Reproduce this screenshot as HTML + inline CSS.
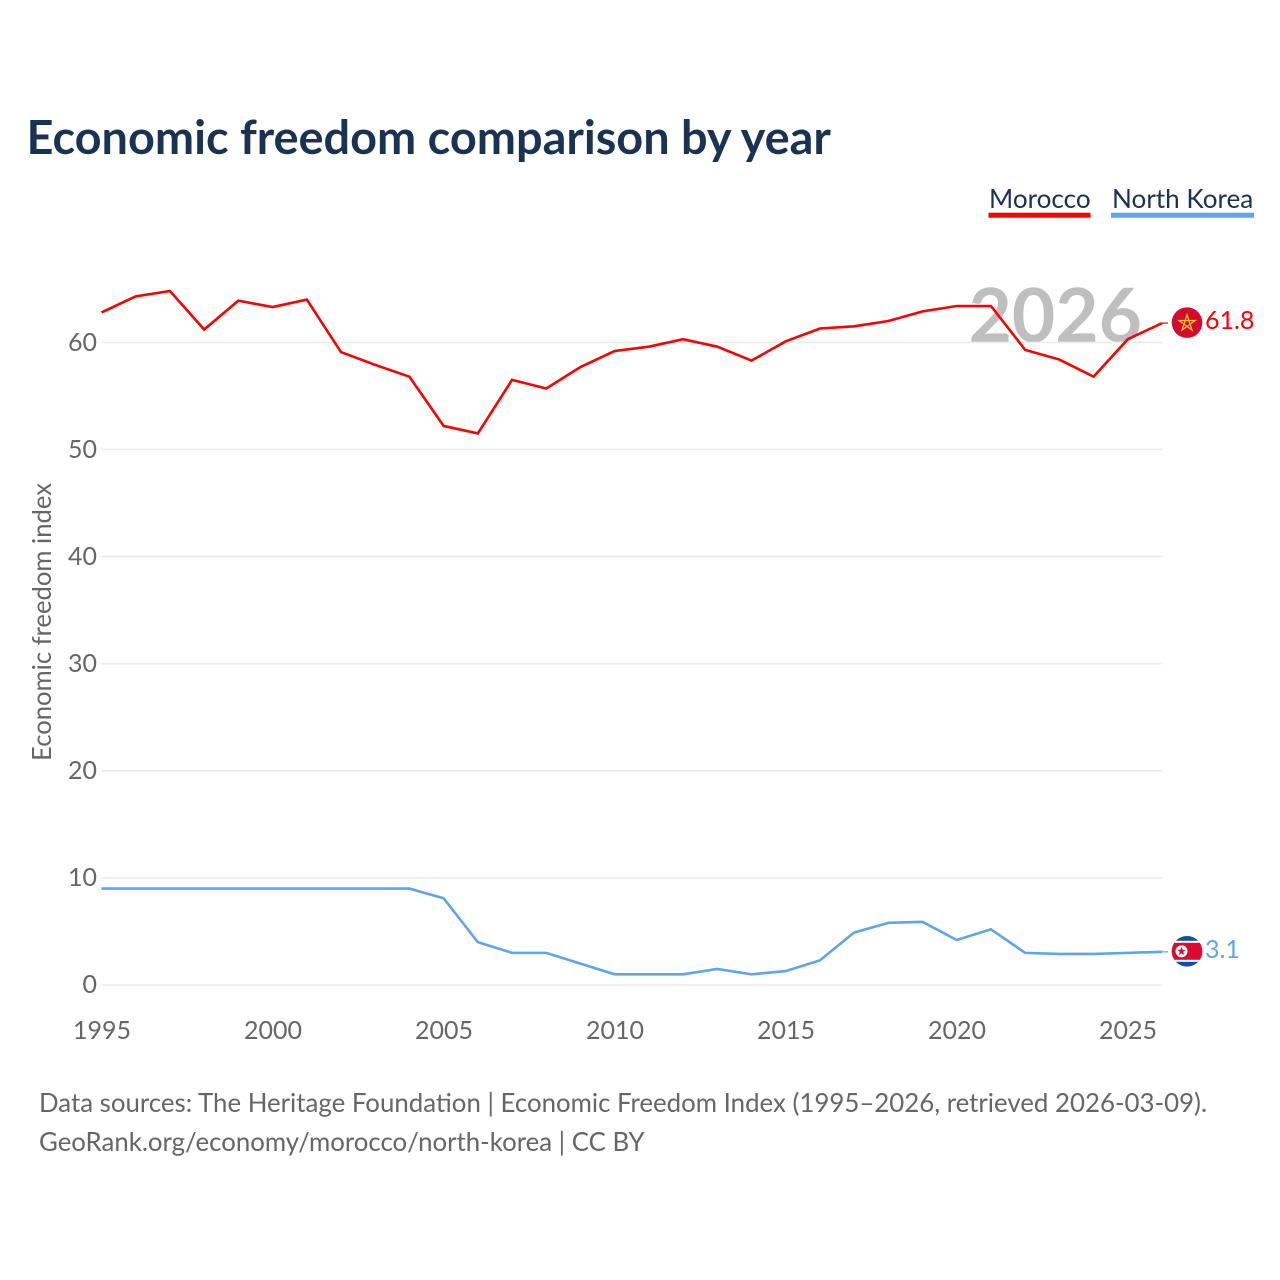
<!DOCTYPE html>
<html lang="en">
<head>
<meta charset="utf-8">
<title>Economic freedom comparison by year</title>
<style>
html,body{margin:0;padding:0;background:#fff;}
#page{position:relative;width:1280px;height:1280px;overflow:hidden;background:#fff;font-family:"Lato","Carlito","Liberation Sans",sans-serif;}
#chart{position:absolute;left:0;top:0;display:block;}
.t{position:absolute;white-space:nowrap;line-height:0;color:#666666;}
</style>
</head>
<body>
<div id="page">
  <div class="t" style="left:26.500px;top:136px;font-size:46.850px;font-weight:700;color:#1a3254;">Economic freedom comparison by year</div>
  <div class="t" style="left:989px;top:198px;font-size:26.100px;color:#1a3254;">Morocco</div>
  <div class="t" style="left:1112px;top:198px;font-size:26.100px;color:#1a3254;">North Korea</div>
  <div class="t" style="left:968.500px;top:313px;font-size:74.800px;font-weight:700;color:#bfbfbf;">2026</div>
  <div class="t" style="left:42px;top:761px;font-size:25.650px;transform-origin:0 0;transform:rotate(-90deg);">Economic freedom index</div>
  <div class="t" style="left:39px;top:1103px;font-size:25.830px;">Data sources: The Heritage Foundation | Economic Freedom Index (1995–2026, retrieved 2026-03-09).</div>
  <div class="t" style="left:39px;top:1142px;font-size:25.800px;">GeoRank.org/economy/morocco/north-korea | CC BY</div>
  <svg id="chart" xmlns="http://www.w3.org/2000/svg" width="1280" height="1280" viewBox="0 0 1280 1280">
    <rect x="988.500" y="212.700" width="102" height="5" fill="#ff0000"/>
    <rect x="1111" y="212.700" width="143" height="5" fill="#5fa4ec"/>
    <g id="grid"></g>
    <g id="series"></g>
    <defs>
      <clipPath id="clip-ma"><circle cx="0" cy="0" r="15.300"/></clipPath>
      <clipPath id="clip-kp"><circle cx="0" cy="0" r="15.300"/></clipPath>
    </defs>
    <g id="flag-morocco">
      <g clip-path="url(#clip-ma)">
        <rect x="-16" y="-16" width="32" height="32" fill="#d40b2e"/>
        <polygon points="0,-8 5,7.400 -8.100,-2.100 8.100,-2.100 -5,7.400" fill="none" stroke="#f5c22f" stroke-width="1.300" stroke-linejoin="miter"/>
      </g>
    </g>
    <g id="flag-korea">
      <g clip-path="url(#clip-kp)">
        <rect x="-16" y="-16" width="32" height="32" fill="#0b4fa8"/>
        <rect x="-16" y="-10.500" width="32" height="21" fill="#ffffff"/>
        <rect x="-16" y="-8.500" width="32" height="17" fill="#dd0a2f"/>
        <circle cx="-5.500" cy="0" r="6" fill="#ffffff"/>
        <polygon points="-5.500,-4.500 -4.400,-1.500 -1.200,-1.400 -3.800,0.600 -2.800,3.700 -5.500,1.900 -8.200,3.700 -7.200,0.600 -9.800,-1.400 -6.600,-1.500" fill="#dd0a2f"/>
      </g>
    </g>
  </svg>
  <div id="labels"></div>
</div>
<script>
const years = [1995,1996,1997,1998,1999,2000,2001,2002,2003,2004,2005,2006,2007,2008,2009,2010,2011,2012,2013,2014,2015,2016,2017,2018,2019,2020,2021,2022,2023,2024,2025,2026];
const moroccoValues = [62.8,64.3,64.8,61.2,63.9,63.3,64.0,59.1,57.9,56.8,52.2,51.5,56.5,55.7,57.7,59.2,59.6,60.3,59.6,58.3,60.1,61.3,61.5,62.0,62.9,63.4,63.4,59.3,58.4,56.8,60.3,61.8];
const northKoreaValues = [9.0,9.0,9.0,9.0,9.0,9.0,9.0,9.0,9.0,9.0,8.1,4.0,3.0,3.0,2.0,1.0,1.0,1.0,1.5,1.0,1.3,2.3,4.9,5.8,5.9,4.2,5.2,3.0,2.9,2.9,3.0,3.1];
const yTickValues = [0,10,20,30,40,50,60];
const xTickValues = [1995,2000,2005,2010,2015,2020,2025];

const NS = 'http://www.w3.org/2000/svg';
const plotLeft = 101.5, plotRight = 1162, yZero = 985, yPerUnit = 10.71;
const tickFont = 25, baselineFactor = 0.387;
function xScale(year){
  const first = years[0], last = years[years.length - 1];
  return plotLeft + (year - first) / (last - first) * (plotRight - plotLeft);
}
function yScale(value){ return yZero - value * yPerUnit; }
function make(tag, attrs, parent){
  const el = document.createElementNS(NS, tag);
  for (const k in attrs) el.setAttribute(k, attrs[k]);
  parent.appendChild(el);
  return el;
}
const labels = document.getElementById('labels');
function addText(text, baseline, css, color){
  const el = document.createElement('div');
  el.className = 't';
  el.textContent = text;
  el.style.cssText = css + 'font-size:' + tickFont + 'px;top:' + Math.round(baseline - baselineFactor * tickFont) + 'px;' + (color ? 'color:' + color + ';' : '');
  labels.appendChild(el);
  return el;
}

const grid = document.getElementById('grid');
yTickValues.forEach(function(v){
  const line = make('line', {x1: plotLeft, x2: plotRight, y1: yScale(v), y2: yScale(v), stroke: '#ebebeb', 'stroke-width': 1.6}, grid);
  
  
  const label = addText(String(v), yScale(v) + 9, 'right:1183px;text-align:right;');
  
  
});

xTickValues.forEach(function(y){
  const label = addText(String(y), 1040, 'left:' + Math.round(xScale(y) - 50) + 'px;width:100px;text-align:center;');
  
  
});

const seriesG = document.getElementById('series');
function drawSeries(values, color, key, flagId){
  const pts = values.map(function(v, i){ return xScale(years[i]).toFixed(2) + ',' + yScale(v).toFixed(2); }).join(' ');
  const line = make('polyline', {points: pts, fill: 'none', stroke: color, 'stroke-width': 2.6, 'stroke-linejoin': 'miter'}, seriesG);
  
  
  const lastValue = values[values.length - 1];
  const yEnd = yScale(lastValue);
  const stub = make('line', {x1: plotRight, x2: 1168, y1: yEnd, y2: yEnd, stroke: color, 'stroke-width': 1.2}, seriesG);
  
  
  document.getElementById(flagId).setAttribute('transform', 'translate(1187,' + (yEnd - 0.5).toFixed(2) + ')');
  const label = addText(lastValue.toFixed(1), yEnd + 6.5, 'left:1205px;', color);
  
  
}
drawSeries(moroccoValues, '#ff0000', 'morocco', 'flag-morocco');
drawSeries(northKoreaValues, '#5fa4ec', 'north-korea', 'flag-korea');
</script>
</body>
</html>
